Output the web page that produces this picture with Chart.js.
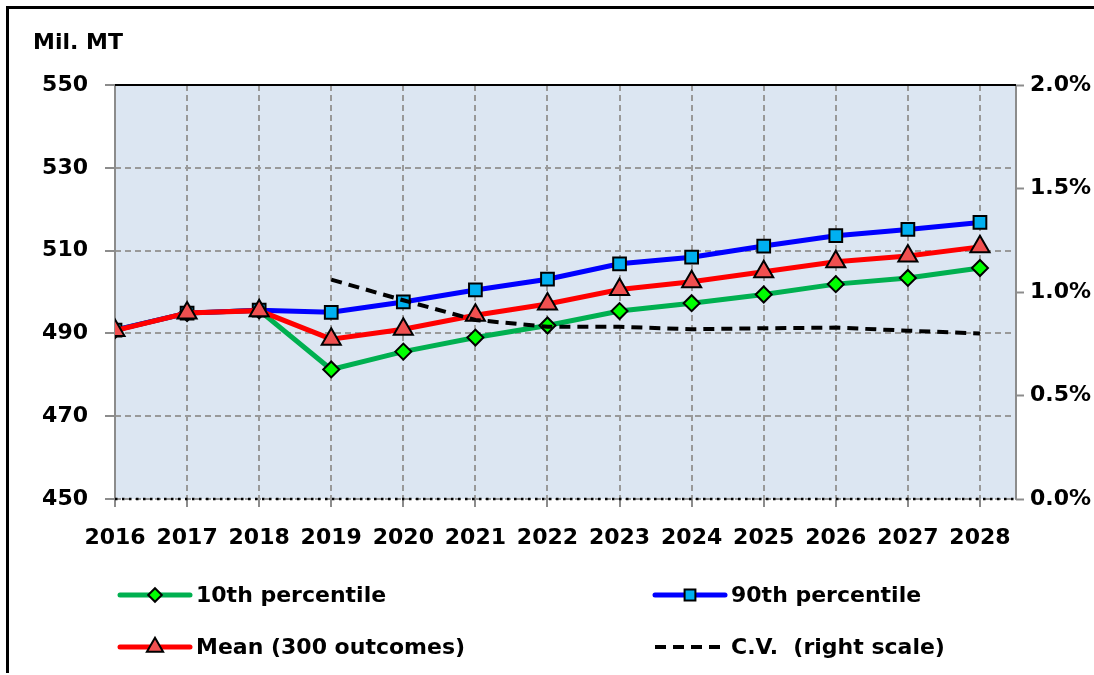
<!DOCTYPE html>
<html>
<head>
<meta charset="utf-8">
<script src="https://cdn.jsdelivr.net/npm/chart.js@4"></script>
<style>
html, body { margin: 0; padding: 0; background: #fff; }
#wrap { position: relative; width: 1094px; height: 675px; }
#frame { position: absolute; left: 6px; top: 6px; right: 0; bottom: 2px;
         border-top: 3px solid #000; border-left: 3px solid #000; pointer-events: none; }
</style>
</head>
<body>
<div id="wrap">
  <canvas id="canvas_chart01" width="1094" height="675"></canvas>
  <div id="frame"></div>
</div>
<script>
const years = [2016, 2017, 2018, 2019, 2020, 2021, 2022, 2023, 2024, 2025, 2026, 2027, 2028];
const p10 = [490.8, 494.9, 495.6, 481.3, 485.6, 489.0, 491.9, 495.4, 497.3, 499.4, 501.9, 503.4, 505.8];
const p90 = [490.8, 494.9, 495.6, 495.1, 497.6, 500.5, 503.1, 506.8, 508.4, 511.1, 513.6, 515.1, 516.8];
const mean = [490.7, 494.9, 495.5, 488.6, 491.0, 494.4, 497.1, 500.6, 502.5, 504.9, 507.3, 508.7, 510.9];
const cv = [null, null, null, 1.06, 0.96, 0.865, 0.832, 0.832, 0.82, 0.825, 0.828, 0.813, 0.80]; // percent
const legendNames = ['10th percentile', '90th percentile', 'Mean (300 outcomes)', 'C.V.  (right scale)'];

const FONT = '"DejaVu Sans", Verdana, sans-serif';
const pts = (arr) => years.map((yr, i) => ({ x: yr, y: arr[i] }));

const ctx01 = document.getElementById('canvas_chart01');

const extras = {
    id: 'extras',
    beforeDraw(chart) {
        const a = chart.chartArea, c = chart.ctx;
        c.save();
        c.fillStyle = '#DCE6F2';
        c.fillRect(a.left, a.top, a.right - a.left, a.bottom - a.top);
        c.restore();
    },
    beforeDatasetsDraw(chart) {
        const a = chart.chartArea, c = chart.ctx;
        c.save();
        c.lineWidth = 2;
        c.strokeStyle = '#8c8c8c';
        c.beginPath();
        c.moveTo(a.left, a.top); c.lineTo(a.left, a.bottom);
        c.moveTo(a.right, a.top); c.lineTo(a.right, a.bottom);
        c.stroke();
        c.strokeStyle = '#000';
        c.beginPath();
        c.moveTo(a.left, a.top); c.lineTo(a.right, a.top);
        c.stroke();
        c.setLineDash([2.5, 4.5]);
        c.lineWidth = 2.5;
        c.beginPath();
        c.moveTo(a.left, a.bottom); c.lineTo(a.right, a.bottom);
        c.stroke();
        c.restore();
    },
    afterDraw(chart) {
        const c = chart.ctx;
        c.save();
        c.fillStyle = '#000';
        c.font = 'bold 22px ' + FONT;
        c.textBaseline = 'middle';
        c.textAlign = 'left';
        c.fillText('Mil. MT', 33, 43);

        // legend, two columns
        const cols = [120, 655], rows = [595, 647];
        [0, 1, 2, 3].forEach((di, k) => {
            const ds = chart.data.datasets[di];
            const x = cols[k % 2], y = rows[Math.floor(k / 2)];
            c.save();
            c.strokeStyle = ds.borderColor;
            c.lineWidth = ds.borderWidth;
            c.setLineDash(ds.borderDash || []);
            c.lineCap = ds.borderDash ? 'butt' : 'round';
            c.beginPath();
            c.moveTo(x, y); c.lineTo(x + 70, y);
            c.stroke();
            c.restore();
            if (ds.pointRadius > 0) {
                c.save();
                c.fillStyle = ds.pointBackgroundColor;
                c.strokeStyle = ds.pointBorderColor;
                c.lineWidth = ds.pointBorderWidth;
                Chart.helpers.drawPoint(c, {
                    pointStyle: ds.pointStyle,
                    radius: ds.pointRadius * 0.85,
                    rotation: 0,
                    borderWidth: ds.pointBorderWidth
                }, x + 35, y);
                c.restore();
            }
            c.fillStyle = '#000';
            c.font = 'bold 22px ' + FONT;
            c.fillText(legendNames[di], x + 76, y + 1);
        });
        c.restore();
    }
};

new Chart(ctx01, {
    type: 'line',
    data: {
        datasets: [{
            label: legendNames[0],
            data: pts(p10),
            borderColor: '#00B050',
            borderWidth: 5,
            pointStyle: 'rectRot',
            pointRadius: 8,
            pointBackgroundColor: '#00FF00',
            pointBorderColor: '#000',
            pointBorderWidth: 2,
            order: 3,
            yAxisID: 'y'
        },
        {
            label: legendNames[1],
            data: pts(p90),
            borderColor: '#0000FF',
            borderWidth: 5,
            pointStyle: 'rect',
            pointRadius: 9,
            pointBackgroundColor: '#00B0F0',
            pointBorderColor: '#000',
            pointBorderWidth: 2,
            order: 2,
            yAxisID: 'y'
        },
        {
            label: legendNames[2],
            data: pts(mean),
            borderColor: '#FF0000',
            borderWidth: 5,
            pointStyle: 'triangle',
            pointRadius: 11,
            pointBackgroundColor: '#F05050',
            pointBorderColor: '#000',
            pointBorderWidth: 2,
            order: 1,
            yAxisID: 'y'
        },
        {
            label: legendNames[3],
            data: pts(cv),
            borderColor: '#000',
            borderWidth: 4,
            borderDash: [11, 7],
            pointRadius: 0,
            spanGaps: false,
            order: 0,
            yAxisID: 'y1'
        }]
    },
    options: {
        responsive: false,
        animation: false,
        events: [],
        layout: { padding: { top: 85, left: 0, right: 0, bottom: 116 } },
        plugins: {
            legend: { display: false },
            tooltip: { enabled: false },
            title: { display: false }
        },
        elements: { line: { tension: 0 } },
        scales: {
            x: {
                type: 'linear',
                min: 2016,
                max: 2028.5,
                afterBuildTicks: (axis) => {
                    axis.ticks = years.map(v => ({ value: v }));
                },
                afterFit: (s) => { s.height = 60; },
                ticks: {
                    stepSize: 1,
                    autoSkip: false,
                    maxRotation: 0,
                    padding: 18,
                    color: '#000',
                    font: { family: FONT, size: 22, weight: 'bold' },
                    callback: (v) => String(v)
                },
                grid: { color: '#999', lineWidth: 2, tickLength: 8, tickColor: '#8c8c8c', tickWidth: 2 },
                border: { display: false, dash: [6, 4] }
            },
            y: {
                position: 'left',
                min: 450,
                max: 550,
                afterFit: (s) => { s.width = 115; },
                ticks: {
                    stepSize: 20,
                    padding: 17,
                    color: '#000',
                    font: { family: FONT, size: 22, weight: 'bold' }
                },
                grid: { color: '#999', lineWidth: 2, tickLength: 10, tickColor: '#8c8c8c', tickWidth: 2 },
                border: { display: false, dash: [6, 4] }
            },
            y1: {
                position: 'right',
                min: 0,
                max: 2,
                afterFit: (s) => { s.width = 78; },
                ticks: {
                    stepSize: 0.5,
                    padding: 6,
                    color: '#000',
                    font: { family: FONT, size: 22, weight: 'bold' },
                    callback: (v) => v.toFixed(1) + '%'
                },
                grid: { drawOnChartArea: false, tickLength: 8, tickColor: '#8c8c8c', tickWidth: 2 },
                border: { display: false }
            }
        }
    },
    plugins: [extras]
});
</script>
</body>
</html>
